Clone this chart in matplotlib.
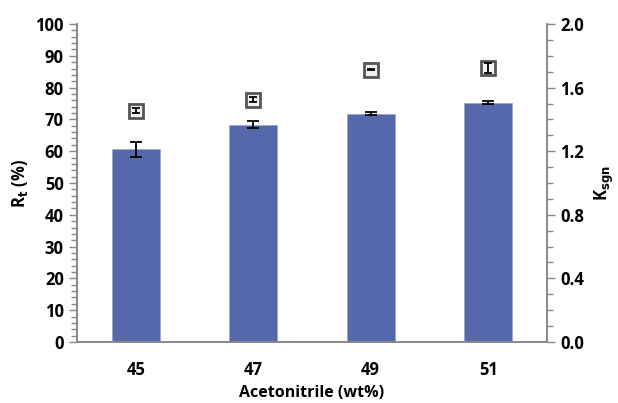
import numpy as np
import matplotlib.pyplot as plt
from matplotlib.ticker import MultipleLocator

# data
acetonitrile = ["45", "47", "49", "51"]
rt = [60.6, 68.3, 71.8, 75.3]
rt_err = [2.3, 1.1, 0.4, 0.4]
k_sgn = [1.455, 1.525, 1.712, 1.722]
k_err = [0.015, 0.015, 0.004, 0.03]

plt.rcParams['font.family'] = ['Open Sans', 'DejaVu Sans']
plt.rcParams['font.weight'] = 'bold'

fig = plt.figure(figsize=(6.18, 4.03), dpi=100)
ax = fig.add_axes([0.1246, 0.1514, 0.7605, 0.789])
x = np.arange(len(acetonitrile))

ax.bar(x, rt, width=0.41, color='#5468AB', edgecolor='#9AA8D6', linewidth=0.6, zorder=2)
ax.errorbar(x, rt, yerr=rt_err, fmt='none', ecolor='black', elinewidth=1.3,
            capsize=4, capthick=1.3, zorder=3)

ax.set_xlim(-0.5, 3.5)
ax.set_ylim(0, 100)
ax.set_xticks(x)
ax.set_xticklabels(acetonitrile)
ax.yaxis.set_major_locator(MultipleLocator(10))
ax.yaxis.set_minor_locator(MultipleLocator(2))
ax.tick_params(axis='x', length=0, pad=14, labelsize=12)
ax.tick_params(axis='y', which='major', length=6, width=1, color='#888888', labelsize=12)
ax.tick_params(axis='y', which='minor', length=4, width=1, color='#888888')
ax.set_xlabel("Acetonitrile (wt%)", fontsize=11.5, fontweight='bold', labelpad=4)
ax.set_ylabel("R$_\\mathbf{t}$ (%)", fontsize=12, fontweight='bold', labelpad=4)
ax.spines['top'].set_visible(False)
for s in ['left', 'bottom', 'right']:
    ax.spines[s].set_color('#888888')
    ax.spines[s].set_linewidth(1.2)

ax2 = ax.twinx()
ax2.plot(x, k_sgn, linestyle='none', marker='s', ms=10, mfc='#F2F2F2', mec='#555555',
         mew=2, zorder=3)
ax2.errorbar(x, k_sgn, yerr=k_err, fmt='none', ecolor='black', elinewidth=1.3,
             capsize=3, capthick=1.3, zorder=4)
ax2.set_ylim(0, 2.0)
ax2.yaxis.set_major_locator(MultipleLocator(0.4))
ax2.yaxis.set_minor_locator(MultipleLocator(0.1))
ax2.yaxis.set_major_formatter(plt.FormatStrFormatter('%.1f'))
ax2.tick_params(axis='y', which='major', length=6, width=1, color='#888888', labelsize=12)
ax2.tick_params(axis='y', which='minor', length=4, width=1, color='#888888')
ax2.set_ylabel("K$_\\mathbf{sgn}$", fontsize=12, fontweight='bold', labelpad=6)
ax2.spines['top'].set_visible(False)
for s in ['left', 'bottom', 'right']:
    ax2.spines[s].set_color('#888888')
    ax2.spines[s].set_linewidth(1.2)

plt.savefig("out.png", dpi=100)
